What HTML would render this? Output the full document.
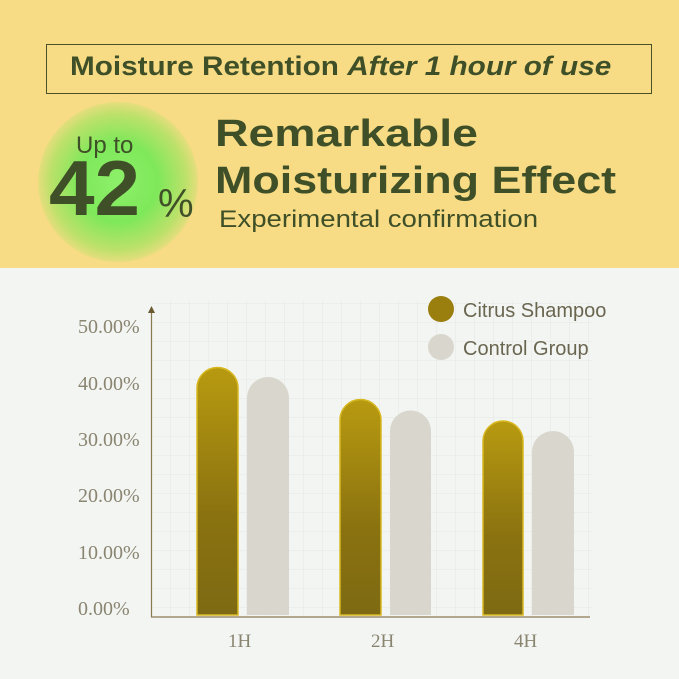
<!DOCTYPE html>
<html><head><style>
body{margin:0;width:679px;height:679px;overflow:hidden;background:#f3f5f3;font-family:"Liberation Sans",sans-serif}
.top{position:absolute;left:0;top:0;width:679px;height:268px;background:#f7dc85}
.box{position:absolute;left:46px;top:44px;width:604px;height:48px;border:1.5px solid #4a5328}
.t{position:absolute;color:#3f4f27;white-space:nowrap;transform-origin:0 0}
.glow{position:absolute;left:38px;top:102px;width:160px;height:160px;border-radius:50%;background:radial-gradient(circle,#8ef06a 0%,#7ee85a 35%,rgba(130,230,80,.5) 60%,rgba(247,220,133,0) 75%)}
</style></head><body>
<div class="top"></div>
<div class="box"></div>
<div class="t" style="left:70px;top:51px;font-size:27px;font-weight:bold;transform:scaleX(1.1)">Moisture Retention <i>After 1 hour of use</i></div>
<div class="glow"></div>
<div class="t" style="left:76px;top:132px;font-size:24px;">Up to</div>
<div class="t" style="left:49px;top:143px;font-size:78px;font-weight:bold;transform:scaleX(1.05)">42</div>
<div class="t" style="left:158px;top:182px;font-size:40px;">%</div>
<div class="t" style="left:215px;top:113px;font-size:38px;font-weight:bold;transform:scaleX(1.22)">Remarkable</div>
<div class="t" style="left:215px;top:160px;font-size:38px;font-weight:bold;transform:scaleX(1.18)">Moisturizing Effect</div>
<div class="t" style="left:219px;top:206px;font-size:24px;transform:scaleX(1.15)">Experimental confirmation</div>
<svg style="position:absolute;left:0;top:0" width="679" height="679">
<defs>
<linearGradient id="g" x1="0" y1="0" x2="0" y2="1"><stop offset="0" stop-color="#b89a10"/><stop offset="0.6" stop-color="#8a7210"/><stop offset="1" stop-color="#7d6a12"/></linearGradient>
<pattern id="grid" width="19" height="19" patternUnits="userSpaceOnUse"><path d="M19 0V19H0" fill="none" stroke="#e6e8e6" stroke-width="1"/></pattern>
</defs>
<rect x="152" y="300" width="440" height="316" fill="url(#grid)"/>
<g font-family="Liberation Serif,serif" font-size="20" fill="#8a8570">
<text x="78" y="333">50.00%</text><text x="78" y="390">40.00%</text><text x="78" y="446">30.00%</text>
<text x="78" y="502">20.00%</text><text x="78" y="559">10.00%</text><text x="78" y="615">0.00%</text>
</g>
<g font-family="Liberation Serif,serif" font-size="19" fill="#8a8570">
<text x="228" y="647">1H</text><text x="371" y="647">2H</text><text x="514" y="647">4H</text>
</g>
<line x1="151.5" y1="310" x2="151.5" y2="617" stroke="#8a7a50" stroke-width="1.2"/>
<path d="M148 313 L151.5 306 L155 313Z" fill="#6a5a30"/>
<line x1="151" y1="617" x2="590" y2="617" stroke="#8a7a50" stroke-width="1.2"/>
<g stroke="#d8b820" stroke-width="1.5" fill="url(#g)">
<path d="M197 615V388a20.5 20.5 0 0 1 41 0V615Z"/>
<path d="M340 615V420a20.5 20.5 0 0 1 41 0V615Z"/>
<path d="M483 615V441a20 20 0 0 1 40 0V615Z"/>
</g>
<g fill="#d8d6cd">
<path d="M247 615V398a21 21 0 0 1 42 0V615Z"/>
<path d="M390 615V431a20.5 20.5 0 0 1 41 0V615Z"/>
<path d="M532 615V452a21 21 0 0 1 42 0V615Z"/>
</g>
<circle cx="441" cy="309" r="13" fill="#9a7e0e"/>
<circle cx="441" cy="347" r="13" fill="#d8d6cd"/>
<g font-family="Liberation Sans,sans-serif" font-size="20" fill="#6a6650">
<text x="463" y="317">Citrus Shampoo</text><text x="463" y="355">Control Group</text>
</g>
</svg>
</body></html>
